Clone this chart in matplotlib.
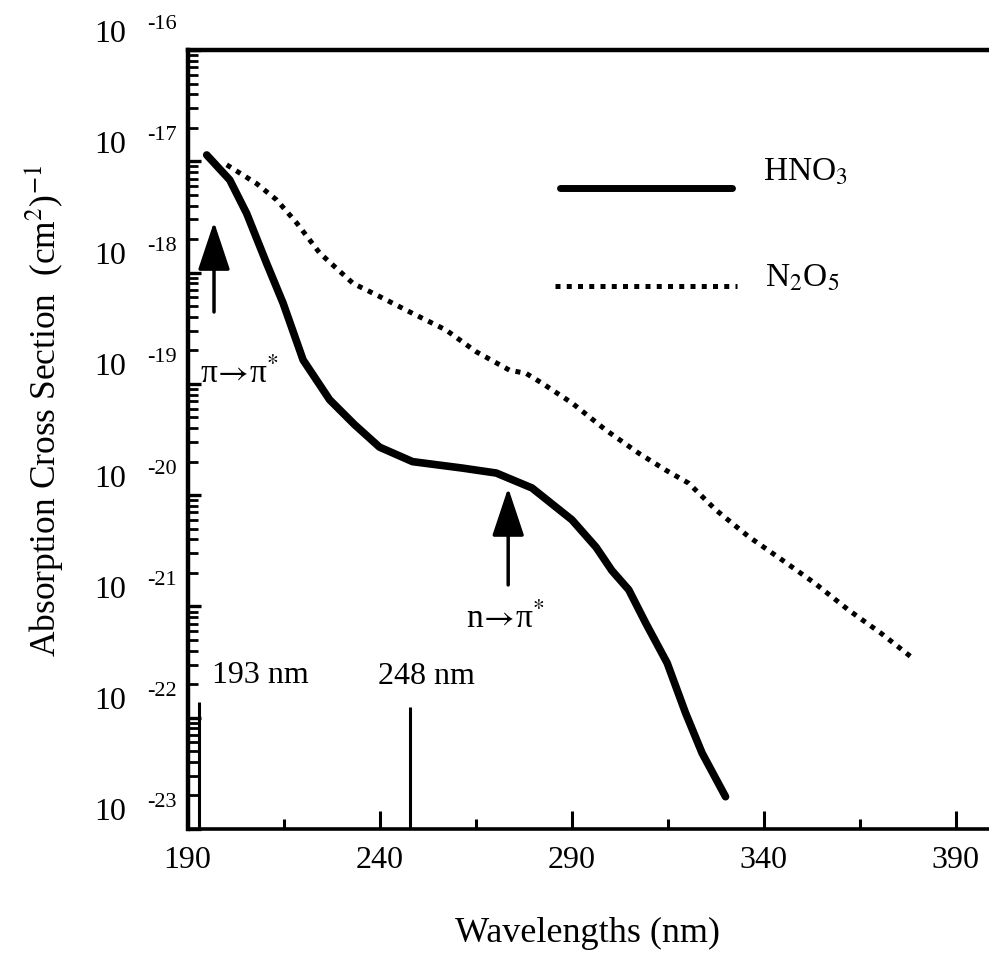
import numpy as np
import matplotlib
matplotlib.use('Agg')
import matplotlib.pyplot as plt
from matplotlib.transforms import offset_copy
from matplotlib.ticker import LogLocator

plt.rcParams['font.family'] = ['Liberation Serif', 'DejaVu Serif']
plt.rcParams['mathtext.fontset'] = 'stix'

# absorption cross sections, (cm^2)^-1
hno3_wl = [195.0, 201.0, 205.4, 210.6, 214.9, 220.1, 227.0, 233.5, 240.0, 248.6,
           261.6, 270.4, 279.7, 290.1, 296.4, 300.5, 304.9, 309.3, 314.9, 319.7,
           324.0, 330.1]
hno3_xs = [1.14e-17, 6.8e-18, 3.4e-18, 1.21e-18, 5.3e-19, 1.64e-19, 7.2e-20, 4.3e-20,
           2.7e-20, 2.0e-20, 1.75e-20, 1.58e-20, 1.16e-20, 6.0e-21, 3.4e-21, 2.1e-21,
           1.41e-21, 7.1e-22, 3.1e-22, 1.1e-22, 4.8e-23, 1.95e-23]

n2o5_wl = [200.2, 208.0, 213.2, 218.4, 224.4, 233.1, 240.0, 248.6, 257.3, 265.1,
           273.8, 278.2, 282.4, 290.2, 298.9, 307.5, 314.5, 320.5, 327.5, 336.1,
           344.8, 353.4, 362.1, 370.7, 378.5]
n2o5_xs = [9.3e-18, 6.3e-18, 4.5e-18, 2.8e-18, 1.5e-18, 8.0e-19, 6.1e-19, 4.3e-19,
           3.05e-19, 1.95e-19, 1.33e-19, 1.24e-19, 1.01e-19, 6.7e-20, 3.85e-20,
           2.38e-20, 1.68e-20, 1.28e-20, 7.4e-21, 4.24e-21, 2.62e-21, 1.61e-21,
           9.3e-22, 5.7e-22, 3.5e-22]

laser_wl = [193, 248]
laser_top = [1.38e-22, 1.26e-22]
laser_labels = ['193 nm', '248 nm']

x_major = [190, 240, 290, 340, 390]
x_minor = [215, 265, 315, 365]
decades = list(range(-23, -15))

dotted = (0, (1.0, 1.25))

fig = plt.figure(figsize=(9.89, 9.77), dpi=100)
ax = fig.add_axes([0.1896, 0.1515, 0.8104, 0.7973])
ax.set_yscale('log')
ax.set_xlim(190, 398.7)
ax.set_ylim(1e-23, 1e-16)

ax.plot(hno3_wl, hno3_xs, color='black', lw=5.5,
        solid_capstyle='round', solid_joinstyle='round')
ax.plot(n2o5_wl, n2o5_xs, color='black', lw=3.6, linestyle=dotted)

# excimer laser lines
ax.vlines(laser_wl, 1e-23, laser_top, color='black', lw=2.2)
ax.text(196.4, 10**-21.687, laser_labels[0], fontsize=23, ha='left', va='baseline')
ax.text(239.5, 10**-21.696, laser_labels[1], fontsize=23, ha='left', va='baseline')

# transition arrows
arrow = dict(arrowstyle='-|>,head_length=1.5,head_width=0.5', lw=2.5,
             color='black', shrinkA=0, shrinkB=0, mutation_scale=20)
ax.annotate('', xy=(196.9, 10**-17.545), xytext=(196.9, 10**-18.354), arrowprops=arrow)
ax.annotate('', xy=(273.5, 10**-19.935), xytext=(273.5, 10**-20.807), arrowprops=arrow)
ax.text(193.2, 10**-18.99, r'π$\!\rightarrow\!$π$^{*}$', fontsize=24,
        ha='left', va='baseline')
ax.text(262.6, 10**-21.19, r'n$\!\rightarrow\!$π$^{*}$', fontsize=24,
        ha='left', va='baseline')

# legend drawn by hand
ax.plot([0.465, 0.679], [0.823, 0.823], transform=ax.transAxes, color='black',
        lw=5, solid_capstyle='round')
ax.plot([0.459, 0.686], [0.697, 0.697], transform=ax.transAxes, color='black',
        lw=3.6, linestyle=dotted)
ax.text(0.718, 0.833, 'HNO$_3$', transform=ax.transAxes, fontsize=24, va='baseline')
ax.text(0.720, 0.696, 'N$_2$O$_5$', transform=ax.transAxes, fontsize=24, va='baseline')

# axes frame and ticks
for side in ['left', 'top']:
    ax.spines[side].set_linewidth(3.2)
ax.spines['bottom'].set_linewidth(2.6)
ax.spines['right'].set_visible(False)

ax.set_xticks(x_major)
ax.set_xticks(x_minor, minor=True)
ax.tick_params(axis='x', which='major', direction='in', length=13, width=2.2,
               labelsize=23, pad=12)
ax.tick_params(axis='x', which='minor', direction='in', length=7, width=2.2)

ax.yaxis.set_major_locator(LogLocator(base=10, numticks=20))
ax.yaxis.set_minor_locator(LogLocator(base=10, subs=np.arange(2, 10), numticks=20))
ax.tick_params(axis='y', which='major', direction='in', length=9, width=2.4)
ax.tick_params(axis='y', which='minor', direction='in', length=7, width=2.0)
ax.tick_params(axis='y', which='both', labelleft=False)

# decade labels in the "10  -n" style
base_tr = offset_copy(ax.get_yaxis_transform(), fig=fig, x=-61, y=16, units='dots')
exp_tr = offset_copy(ax.get_yaxis_transform(), fig=fig, x=-40, y=26, units='dots')
for e in decades:
    ax.text(0, 10.0**e, '10', transform=base_tr, fontsize=23, ha='right', va='center')
    ax.text(0, 10.0**e, str(e), transform=exp_tr, fontsize=16, ha='left', va='center')

fig.text(0.0455, 0.579, 'Absorption Cross Section  (cm$^2$)$^{-1}$', rotation=90,
         fontsize=25.5, ha='center', va='center')
fig.text(0.5945, 0.0358, 'Wavelengths (nm)', fontsize=26, ha='center', va='baseline')

fig.savefig('out.png', dpi=100)
